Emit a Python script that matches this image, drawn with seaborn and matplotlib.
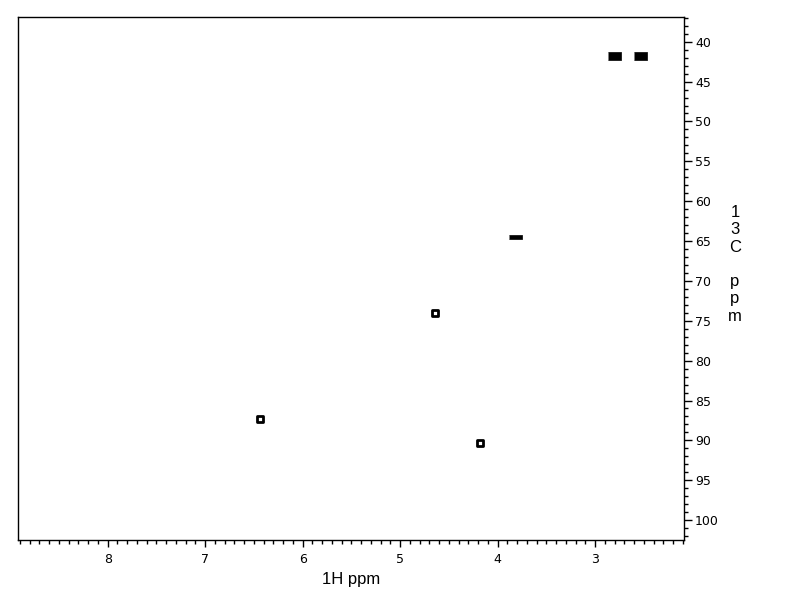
import matplotlib
matplotlib.use("Agg")
from matplotlib import pyplot as plt
from matplotlib.ticker import MultipleLocator
import pandas as pd
import seaborn as sns

# cross peaks (1H ppm, 13C ppm)
h_ppm = [2.80, 2.54, 3.82, 4.64, 6.44, 4.18]
c_ppm = [41.8, 41.8, 64.5, 74.0, 87.3, 90.3]
shape = ["wide", "wide", "long", "ring", "ring", "ring"]

peaks = pd.DataFrame({"H": h_ppm, "C": c_ppm, "shape": shape})

sns.set_theme(style="white")
plt.rcParams['font.family'] = ['DejaVu Sans']

fig = plt.figure(figsize=(7.92, 6.12), dpi=100)
ax = fig.add_axes([0.0227, 0.1176, 0.8409, 0.8546])

wide = [(-1.6, -0.9), (1.6, -0.9), (1.6, 0.9), (-1.6, 0.9)]
long_ = [(-2.8, -0.7), (2.8, -0.7), (2.8, 0.7), (-2.8, 0.7)]
filled = peaks[peaks["shape"] != "ring"]
sns.scatterplot(data=filled, x="H", y="C", style="shape",
                markers={"wide": wide, "long": long_}, s=90,
                color="black", edgecolor="black", linewidth=0.5,
                legend=False, ax=ax)
rings = peaks[peaks["shape"] == "ring"]
sns.scatterplot(data=rings, x="H", y="C", marker="s", s=22,
                facecolor="white", edgecolor="black", linewidth=2.0,
                legend=False, ax=ax)

ax.set_xlim(8.92, 2.09)
ax.set_ylim(102.5, 36.9)
ax.yaxis.tick_right()
ax.xaxis.set_major_locator(MultipleLocator(1))
ax.xaxis.set_minor_locator(MultipleLocator(0.1))
ax.yaxis.set_major_locator(MultipleLocator(5))
ax.yaxis.set_minor_locator(MultipleLocator(1))
ax.tick_params(axis="x", which="major", direction="out", length=5, width=1,
               color="black", labelcolor="black", labelsize=9, pad=4, bottom=True)
ax.tick_params(axis="x", which="minor", direction="out", length=3, width=1,
               color="black", bottom=True)
ax.tick_params(axis="y", which="major", direction="out", length=6, width=1,
               color="black", labelcolor="black", labelsize=9, pad=2,
               right=True, left=False)
ax.tick_params(axis="y", which="minor", direction="out", length=3, width=1,
               color="black", right=True, left=False)
for sp in ax.spines.values():
    sp.set_color("black")
    sp.set_linewidth(1)

ax.set_xlabel("1H ppm", fontsize=12, color="black", labelpad=5,
              family=["Liberation Sans", "DejaVu Sans"])
ax.set_ylabel("")
fig.text(0.928, 0.568, "1\n3\nC\n\np\np\nm", fontsize=12, color="black",
         ha="center", va="center", linespacing=1.19,
         family=["Liberation Sans", "DejaVu Sans"])

plt.savefig("out.png", dpi=100)
